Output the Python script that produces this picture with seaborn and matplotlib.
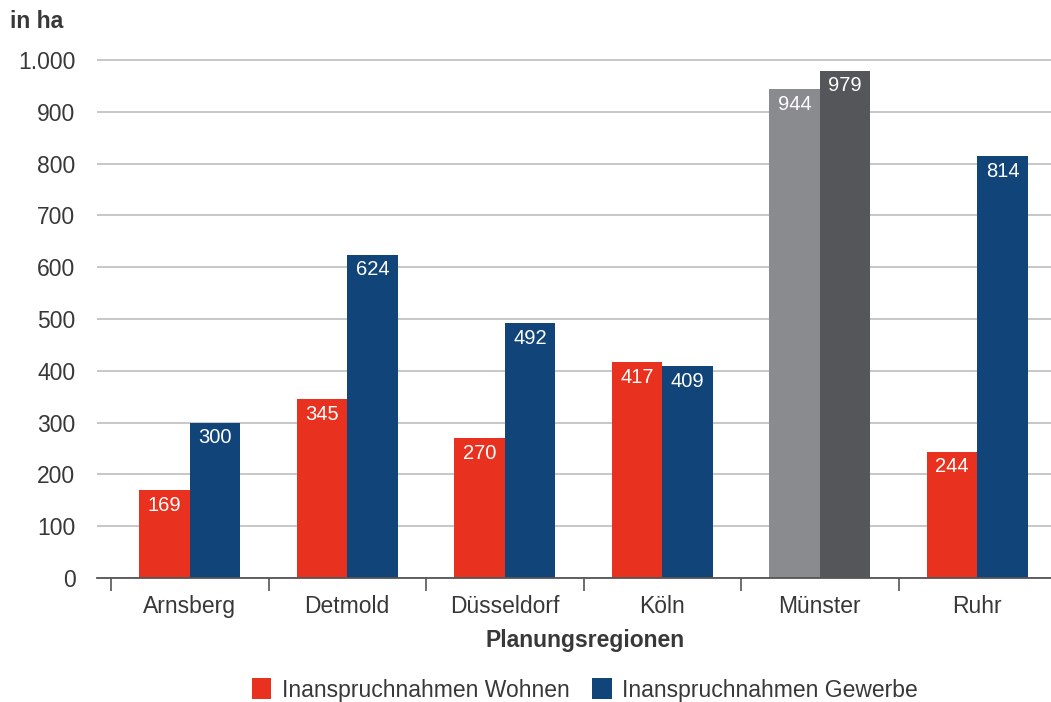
import matplotlib
matplotlib.use("Agg")
import matplotlib.pyplot as plt
import seaborn as sns
import pandas as pd
from matplotlib.patches import Patch
from matplotlib.ticker import FixedLocator, FuncFormatter

# Flächeninanspruchnahme je Planungsregion (in ha)
regionen = ["Arnsberg", "Detmold", "Düsseldorf", "Köln", "Münster", "Ruhr"]
wohnen = [169, 345, 270, 417, 944, 244]
gewerbe = [300, 624, 492, 409, 979, 814]
serien = ["Inanspruchnahmen Wohnen", "Inanspruchnahmen Gewerbe"]
y_ticks = [0, 100, 200, 300, 400, 500, 600, 700, 800, 900, 1000]
hervorgehoben = "Münster"

farben = {serien[0]: "#E8321F", serien[1]: "#114479"}
grautoene = {serien[0]: "#8A8B8E", serien[1]: "#55565A"}

df = pd.DataFrame({
    "Region": regionen * 2,
    "Serie": [serien[0]] * len(regionen) + [serien[1]] * len(regionen),
    "Wert": wohnen + gewerbe,
})

sns.set_theme(style="white")
plt.rcParams["font.family"] = ["Liberation Sans", "DejaVu Sans"]
textfarbe = "#383838"
fs = 16.5

fig = plt.figure(figsize=(10.51, 7.02), dpi=100)
W, H = 1051, 702
y0_px, y1000_px = 578, 60
scale = (y0_px - y1000_px) / 1000
ytop = 1020
ax_left = 97 / W
ax_bottom = (H - y0_px) / H
ax_top = (H - (y0_px - ytop * scale)) / H
ax = fig.add_axes([ax_left, ax_bottom, 1.0 - ax_left, ax_top - ax_bottom])

sns.barplot(data=df, x="Region", y="Wert", hue="Serie", order=regionen,
            hue_order=serien, palette=farben, width=0.64, saturation=1,
            legend=False, ax=ax)

werte = {serien[0]: wohnen, serien[1]: gewerbe}
for serie, cont in zip(serien, ax.containers):
    for region, wert, bar in zip(regionen, werte[serie], cont):
        bar.set_linewidth(0)
        if region == hervorgehoben:
            bar.set_facecolor(grautoene[serie])
        ax.annotate(f"{wert}", xy=(bar.get_x() + bar.get_width() / 2, wert),
                    xytext=(0, -4), textcoords="offset points",
                    ha="center", va="top", color="white", fontsize=14.5)

# Achsen
cat_px = 157.5
xmin = -0.5 - 14 / cat_px
ax.set_xlim(xmin, xmin + (W - 97) / cat_px)
ax.set_ylim(0, ytop)
ax.yaxis.set_major_locator(FixedLocator(y_ticks))
ax.yaxis.set_major_formatter(FuncFormatter(lambda v, p: f"{v:,.0f}".replace(",", ".")))
ax.grid(axis="y", color="#BDBDBD", linewidth=1.2)
ax.set_axisbelow(True)
for s in ["top", "right", "left"]:
    ax.spines[s].set_visible(False)
ax.spines["bottom"].set_color("#555555")
ax.spines["bottom"].set_linewidth(1.3)

ax.set_xlabel("")
ax.set_ylabel("")
ax.tick_params(axis="y", length=0, pad=15.5, labelsize=fs, labelcolor=textfarbe)
ax.tick_params(axis="x", which="major", length=0, pad=12.5, labelsize=fs, labelcolor=textfarbe)
ax.xaxis.set_minor_locator(FixedLocator([i - 0.5 for i in range(len(regionen) + 1)]))
ax.tick_params(axis="x", which="minor", length=9.5, width=1.2, color="#555555", direction="out")
ax.xaxis.set_tick_params(which="minor", bottom=True)

fig.text(10 / W, 1 - 21 / H, "in ha", fontsize=fs, fontweight="bold",
         color=textfarbe, va="center", ha="left")
fig.text(585.5 / W, 1 - 641 / H, "Planungsregionen", fontsize=fs,
         fontweight="bold", color=textfarbe, va="center", ha="center")

handles = [Patch(facecolor=farben[s], edgecolor="none") for s in serien]
fig.legend(handles, serien, loc="center", bbox_to_anchor=(585 / W, 1 - 690 / H),
           ncol=2, frameon=False, fontsize=fs, handlelength=0.85,
           handleheight=1.0, handletextpad=0.45, columnspacing=1.0,
           labelcolor=textfarbe)

fig.savefig("out.png", dpi=100)
